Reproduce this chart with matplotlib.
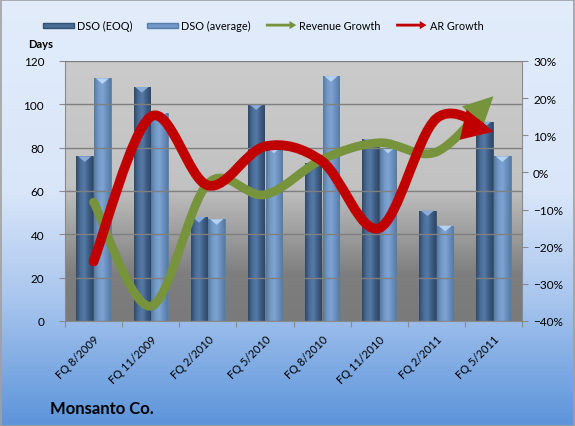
import numpy as np
import matplotlib
matplotlib.use("Agg")
import matplotlib.pyplot as plt
from matplotlib.path import Path
from matplotlib.patches import FancyArrowPatch, Patch, FancyArrow, Rectangle, Polygon
from matplotlib.colors import LinearSegmentedColormap
from matplotlib.legend_handler import HandlerPatch
from matplotlib.ticker import PercentFormatter, FixedLocator

plt.rcParams['font.family'] = ['Lato', 'DejaVu Sans']

# data
quarters = ["FQ 8/2009", "FQ 11/2009", "FQ 2/2010", "FQ 5/2010",
            "FQ 8/2010", "FQ 11/2010", "FQ 2/2011", "FQ 5/2011"]
dso_eoq = [76, 108, 48, 100, 73, 84, 51, 92]
dso_avg = [112, 96, 47, 80, 113, 80, 44, 76]
revenue_growth = [-8, -36, -3, -6, 3.5, 8, 5.5, 20.5]
ar_growth = [-24, 15, -3.5, 7, 3, -15, 14.5, 11]

GREEN = "#77933c"
RED = "#c00000"


def smooth_path(xs, ys):
    # excel-like smoothed line: catmull-rom segments as cubic beziers
    pts = np.column_stack([xs, ys]).astype(float)
    n = len(pts)
    verts = [pts[0]]
    codes = [Path.MOVETO]
    for i in range(n - 1):
        p0 = pts[max(i - 1, 0)]
        p1 = pts[i]
        p2 = pts[i + 1]
        p3 = pts[min(i + 2, n - 1)]
        verts += [p1 + (p2 - p0) / 6.0, p2 - (p3 - p1) / 6.0, p2]
        codes += [Path.CURVE4] * 3
    return Path(verts, codes)


def make_arrow(legend, orig_handle, xdescent, ydescent, width, height, fontsize):
    return FancyArrow(-xdescent, height / 2 - ydescent, width, 0,
                      width=height * 0.55, head_width=height * 1.6,
                      head_length=height * 1.3, length_includes_head=True)


fig = plt.figure(figsize=(5.75, 4.27), dpi=100)

# figure background gradient
bg = fig.add_axes([0, 0, 1, 1], zorder=-10)
bg_cmap = LinearSegmentedColormap.from_list(
    "bg", [(0, "#5c94da"), (0.3, "#a9c6ee"), (0.55, "#d9e6f9"), (1, "#e2ecfb")])
bg.imshow(np.linspace(0, 1, 256).reshape(-1, 1), cmap=bg_cmap, aspect="auto",
          extent=(0, 1, 0, 1), origin="lower")
bg.set_xlim(0, 1)
bg.set_ylim(0, 1)
bg.axis("off")
bg.add_patch(Rectangle((0.001, 0.001), 0.997, 0.996, fill=False,
                       edgecolor="#a0a0a0", lw=1.2))

ax = fig.add_axes([65 / 575, 105 / 427, 457 / 575, 260 / 427])
ax.patch.set_visible(False)

# plot area gradient
pa_cmap = LinearSegmentedColormap.from_list(
    "pa", [(0, "#7a7a7a"), (0.18, "#7e7e7e"), (0.52, "#c2c2c2"), (1, "#cbcbcb")])
ax.imshow(np.linspace(0, 1, 256).reshape(-1, 1), cmap=pa_cmap, aspect="auto",
          extent=(0, 1, 0, 1), origin="lower", transform=ax.transAxes, zorder=0)

x = np.arange(len(quarters))
w = 0.29
bars1 = ax.bar(x - 0.155, dso_eoq, w, color="#3f5d85", edgecolor="#34506f",
               lw=0.6, zorder=2)
bars2 = ax.bar(x + 0.155, dso_avg, w, color="#6a8fbf", edgecolor="#5a7eab",
               lw=0.6, zorder=2)

dark_cmap = LinearSegmentedColormap.from_list("d", ["#2f4867", "#4a6b96", "#557aa6", "#3e5c84", "#2f4867"])
light_cmap = LinearSegmentedColormap.from_list("l", ["#56799f", "#7298c7", "#7ea4d2", "#6a8fbe", "#56799f"])
hgrad = np.linspace(0, 1, 64).reshape(1, -1)
for bars, cm, cap in [(bars1, dark_cmap, "#8aacd6"), (bars2, light_cmap, "#b4d2f2")]:
    for r in bars:
        x0, h, bw = r.get_x(), r.get_height(), r.get_width()
        im = ax.imshow(hgrad, cmap=cm, aspect="auto", extent=(x0, x0 + bw, 0, h),
                       zorder=2.1)
        im.set_clip_path(r)
        ax.add_patch(Polygon([(x0 + bw * 0.1, h), (x0 + bw * 0.9, h),
                              (x0 + bw * 0.5, h - 2.6)], closed=True,
                             facecolor=cap, edgecolor="none", zorder=2.2))

ax.set_xlim(-0.5, len(quarters) - 0.5)
ax.set_ylim(0, 120)
ax.set_yticks(np.arange(0, 121, 20))
ax.yaxis.grid(True, color="#7f7f7f", lw=1)
ax.set_axisbelow(False)
for gl in ax.get_ygridlines():
    gl.set_zorder(1)

ax.xaxis.set_major_locator(FixedLocator(np.arange(-0.5, len(quarters), 1.0)))
ax.xaxis.set_minor_locator(FixedLocator(x))
ax.set_xticklabels([])
ax.set_xticklabels(quarters, minor=True, rotation=45, ha="right",
                   rotation_mode="anchor", fontsize=8)
ax.tick_params(axis="x", which="major", length=4, color="#8a8a8a")
ax.tick_params(axis="x", which="minor", length=0, pad=9)
ax.tick_params(axis="y", length=4, color="#8a8a8a", labelsize=8.5, pad=11)
for s in ["top", "right"]:
    ax.spines[s].set_visible(False)
for s in ["left", "bottom"]:
    ax.spines[s].set_color("#8a8a8a")

ax2 = ax.twinx()
ax2.set_ylim(-40, 30)
ax2.set_yticks(np.arange(-40, 31, 10))
ax2.yaxis.set_major_formatter(PercentFormatter(decimals=0))
ax2.tick_params(axis="y", length=4, color="#8a8a8a", labelsize=8.5, pad=4)
for s in ["top", "left", "bottom"]:
    ax2.spines[s].set_visible(False)
ax2.spines["right"].set_color("#8a8a8a")

for vals, col, lw in [(revenue_growth, GREEN, 6.3), (ar_growth, RED, 7.0)]:
    arr = FancyArrowPatch(path=smooth_path(x, vals),
                          arrowstyle="-|>,head_length=1.1,head_width=0.55",
                          mutation_scale=10, lw=lw, color=col, capstyle="round",
                          joinstyle="miter", transform=ax2.transData, zorder=5)
    ax2.add_patch(arr)

handles = [Patch(facecolor="#4a6b96", edgecolor="#34506f"),
           Patch(facecolor="#7298c7", edgecolor="#5a7eab"),
           Patch(facecolor=GREEN, edgecolor="none"),
           Patch(facecolor=RED, edgecolor="none")]
labels = ["DSO (EOQ)", "DSO (average)", "Revenue Growth", "AR Growth"]
fig.legend(handles, labels, loc="center", bbox_to_anchor=(0.458, 0.938), ncol=4,
           frameon=False, fontsize=7.8, handlelength=2.8, handleheight=0.35,
           handletextpad=0.3, columnspacing=1.4,
           handler_map={handles[2]: HandlerPatch(patch_func=make_arrow),
                        handles[3]: HandlerPatch(patch_func=make_arrow)})

fig.text(28 / 575, 1 - 45 / 427, "Days", fontsize=8, fontweight="bold", va="center")
fig.text(50 / 575, 1 - 409 / 427, "Monsanto Co.", fontsize=12,
         fontweight="bold", va="center")

fig.savefig("out.png", dpi=100)
